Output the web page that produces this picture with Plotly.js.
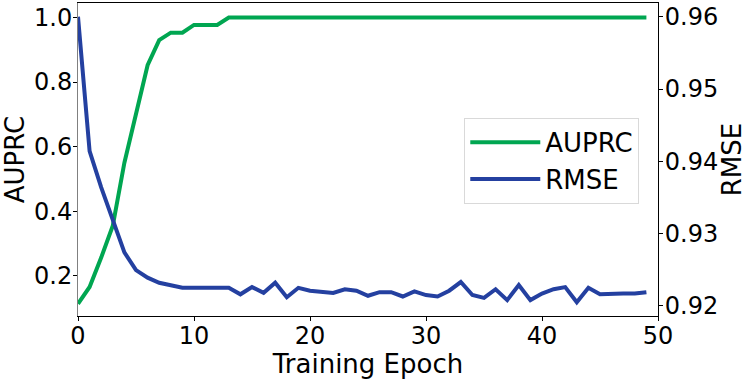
<!DOCTYPE html>
<html>
<head>
<meta charset="utf-8">
<script src="https://cdn.plot.ly/plotly-3.0.1.min.js"></script>
<style>html,body{margin:0;padding:0;background:#fff;}#chart{width:747px;height:379px;}</style>
</head>
<body>
<div id="chart"></div>
<script>
const epochs = Array.from({length: 50}, (_, i) => i);
const auprc = [0.113, 0.165, 0.256, 0.355, 0.55, 0.70, 0.852, 0.93, 0.953, 0.953,
  0.977, 0.977, 0.977, 1.0, 1.0, 1.0, 1.0, 1.0, 1.0, 1.0,
  1.0, 1.0, 1.0, 1.0, 1.0, 1.0, 1.0, 1.0, 1.0, 1.0,
  1.0, 1.0, 1.0, 1.0, 1.0, 1.0, 1.0, 1.0, 1.0, 1.0,
  1.0, 1.0, 1.0, 1.0, 1.0, 1.0, 1.0, 1.0, 1.0, 1.0];
const rmse = [0.9600, 0.9414, 0.9364, 0.9318, 0.9274, 0.92495, 0.9239, 0.9232, 0.9229, 0.9225,
  0.9225, 0.9225, 0.9224, 0.9225, 0.9216, 0.9226, 0.9218, 0.9232, 0.9212, 0.9225,
  0.9221, 0.9219, 0.9218, 0.9223, 0.9221, 0.9214, 0.9219, 0.9219, 0.9213, 0.9220,
  0.9215, 0.9213, 0.9221, 0.9233, 0.9215, 0.9211, 0.9223, 0.9208, 0.9229, 0.9208,
  0.9217, 0.9223, 0.9226, 0.9205, 0.9225, 0.9216, 0.9217, 0.9217, 0.9217, 0.9219];
const seriesNames = ['AUPRC', 'RMSE'];
const leftTicks = [0.2, 0.4, 0.6, 0.8, 1.0];
const rightTicks = [0.92, 0.93, 0.94, 0.95, 0.96];
const xTicks = [0, 10, 20, 30, 40, 50];

const font = 'DejaVu Sans, sans-serif';
const traces = [
  {x: epochs, y: auprc, name: seriesNames[0], type: 'scatter', mode: 'lines',
   line: {color: '#00A651', width: 4}, yaxis: 'y'},
  {x: epochs, y: rmse, name: seriesNames[1], type: 'scatter', mode: 'lines',
   line: {color: '#2440A0', width: 4}, yaxis: 'y2'}
];
const layout = {
  width: 747, height: 379,
  margin: {l: 78, r: 89, t: 3, b: 63, pad: 0},
  paper_bgcolor: '#fff', plot_bgcolor: '#fff',
  font: {family: font, color: '#000', size: 24},
  showlegend: true,
  legend: {x: 0.666, y: 0.633, xanchor: 'left', yanchor: 'top',
    bgcolor: '#fff', bordercolor: '#d9d9d9', borderwidth: 1,
    font: {family: font, size: 26, color: '#000'}, itemwidth: 70},
  xaxis: {range: [0, 50], tickvals: xTicks, ticktext: xTicks.map(String),
    showgrid: false, zeroline: false, showline: true, linecolor: '#000', linewidth: 1,
    mirror: true, ticks: 'outside', ticklen: 4, tickcolor: '#000',
    ticklabelstandoff: -6,
    tickfont: {family: font, size: 24},
    title: {text: 'Training Epoch', font: {family: font, size: 26}, standoff: 2}},
  yaxis: {range: [0.075, 1.045], tickvals: leftTicks, ticktext: leftTicks.map(v => v.toFixed(1)),
    showgrid: false, zeroline: false, showline: true, linecolor: '#808080', linewidth: 1,
    ticks: 'outside', ticklen: 4, tickcolor: '#000',
    ticklabelstandoff: -4,
    tickfont: {family: font, size: 24},
    title: {text: 'AUPRC', font: {family: font, size: 26}, standoff: 6}},
  yaxis2: {range: [0.9186, 0.9619], tickvals: rightTicks, ticktext: rightTicks.map(v => v.toFixed(2)),
    overlaying: 'y', side: 'right',
    showgrid: false, zeroline: false, showline: true, linecolor: '#000', linewidth: 1,
    ticks: 'outside', ticklen: 4, tickcolor: '#000',
    ticklabelstandoff: -3,
    tickfont: {family: font, size: 24},
    title: {text: 'RMSE', font: {family: font, size: 26}, standoff: 4}}
};
Plotly.newPlot('chart', traces, layout, {displayModeBar: false, staticPlot: true});
</script>
</body>
</html>
